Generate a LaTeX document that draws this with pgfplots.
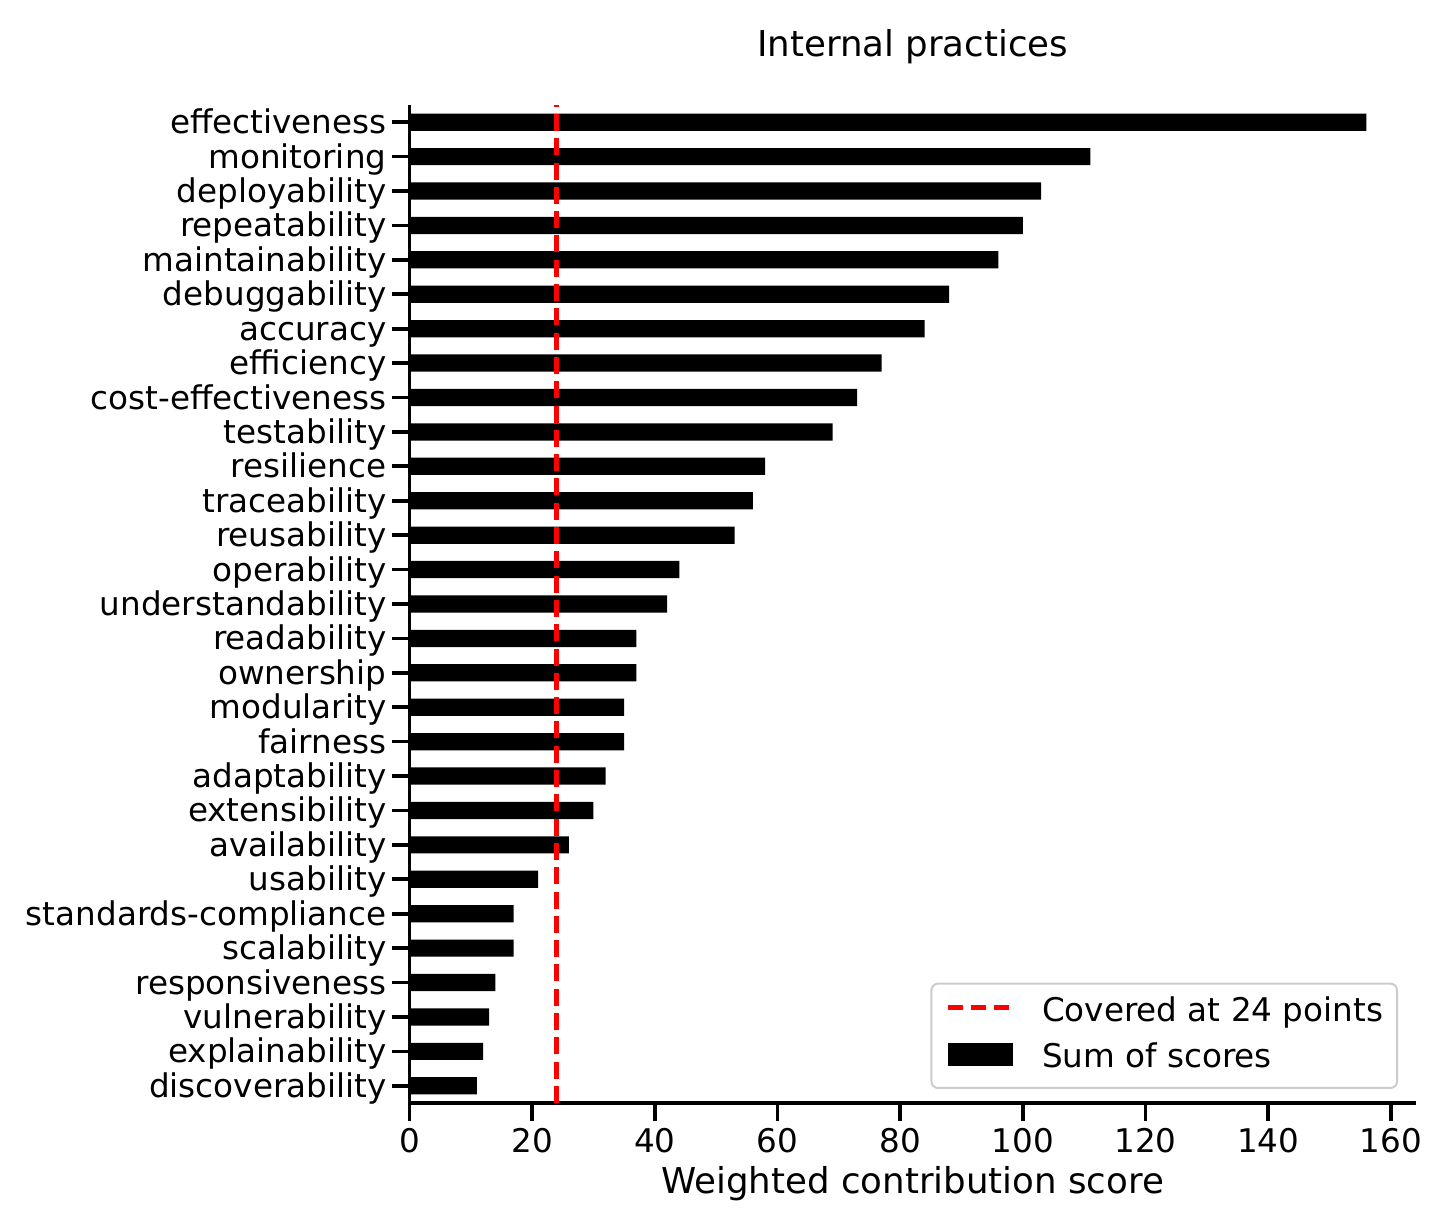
\documentclass[border=0pt]{standalone}
\usepackage{fontspec}
\setmainfont{DejaVu Sans}
\usepackage{pgfplots}
\pgfplotsset{compat=1.18}
\newcommand{\tickfont}{\fontsize{16.3}{19.6}\selectfont}
\newcommand{\labfont}{\fontsize{17.8}{21.4}\selectfont}
\begin{document}
\begin{tikzpicture}
\path[use as bounding box] (0,0) rectangle (719.5pt,607pt);
\begin{axis}[
  at={(204.7pt,55.5pt)}, anchor=south west,
  scale only axis, width=503.3pt, height=499pt,
  xmin=0, xmax=164.1, ymin=-0.5, ymax=28.5,
  axis lines=left,
  axis line style={-, line width=1.85pt, black},
  tick align=outside,
  major tick length=8.8pt,
  tick style={line width=1.85pt, black},
  minor tick num=0,
  xtick={0,20,...,160},
  ytick={0,1,...,28},
  yticklabels={discoverability,explainability,vulnerability,responsiveness,scalability,standards-compliance,usability,availability,extensibility,adaptability,fairness,modularity,ownership,readability,understandability,operability,reusability,traceability,resilience,testability,cost-effectiveness,efficiency,accuracy,debuggability,maintainability,repeatability,deployability,monitoring,effectiveness},
  /pgf/number format/assume math mode=true,
  xticklabel style={font=\tickfont, anchor=north, inner sep=0pt, yshift=-3.5pt},
  yticklabel style={font=\tickfont, anchor=base east, inner sep=0pt, xshift=-2.5pt, yshift=-5.75pt},
  title={Internal practices},
  title style={at={(0.5,1)}, anchor=base, yshift=18pt, font=\labfont, inner sep=0pt},
  xlabel={Weighted contribution score},
  xlabel style={at={(axis description cs:0.5,0)}, anchor=base, yshift=-45pt, font=\labfont, inner sep=0pt},
  reverse legend,
  legend cell align=left,
  legend style={at={(axis description cs:1,0)}, anchor=south east, xshift=-9pt, yshift=7pt,
    draw=black!20, line width=1pt, rounded corners=3.3pt, fill=white,
    font=\tickfont, inner xsep=7pt, inner ysep=6.5pt, row sep=6.8pt,
    nodes={inner sep=0pt, text height=12.4pt, text depth=3.8pt},
    /tikz/every odd column/.append style={column sep=13.5pt}},
]
\addplot[xbar, bar width=0.5, fill=black, draw=none,
  legend image code/.code={\fill[black, sharp corners] (0pt,-3.8pt) rectangle (32.5pt,7.7pt);}]
  coordinates {
  (11,0) (12,1) (13,2) (14,3) (17,4) (17,5) (21,6) (26,7) (30,8) (32,9)
  (35,10) (35,11) (37,12) (37,13) (42,14) (44,15) (53,16) (56,17) (58,18) (69,19)
  (73,20) (77,21) (84,22) (88,23) (96,24) (100,25) (103,26) (111,27) (156,28)
  };
\addlegendentry{Sum of scores}
\addplot[red, line width=2.3pt, dash pattern=on 8.5pt off 3.65pt,
  legend image code/.code={\draw[red, sharp corners, line width=2.3pt, dash pattern=on 7.5pt off 4pt] (0pt,2.7pt) -- (32.5pt,2.7pt);}]
  coordinates {(24,-0.5) (24,28.5)};
\addlegendentry{Covered at 24 points}
\end{axis}
\end{tikzpicture}
\end{document}
